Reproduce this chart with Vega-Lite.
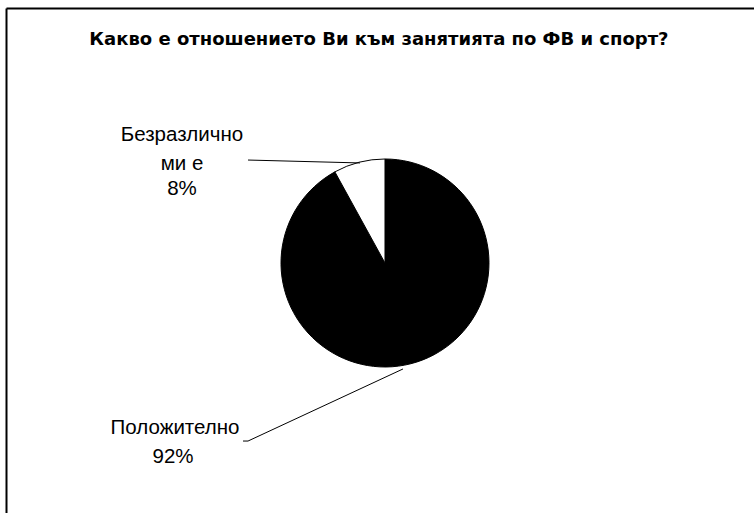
{
  "$schema": "https://vega.github.io/schema/vega-lite/v6.json",
  "width": 748,
  "height": 505,
  "autosize": {"type": "none"},
  "padding": {"left": 6, "top": 8, "right": 0, "bottom": 0},
  "background": "white",
  "config": {"view": {"stroke": null}, "font": "Liberation Sans"},
  "datasets": {
    "slices": [
      {"category": "Положително", "percent": 92, "order": 1},
      {"category": "Безразлично ми е", "percent": 8, "order": 2}
    ],
    "labels": [
      {"text": "Безразлично", "x": -1.952, "y": 1.231},
      {"text": "ми е", "x": -1.952, "y": 0.952},
      {"text": "8%", "x": -1.952, "y": 0.712},
      {"text": "Положително", "x": -2.019, "y": -1.587},
      {"text": "92%", "x": -2.038, "y": -1.865}
    ],
    "leaders": [
      {"label": "Безразлично ми е", "step": 1, "x": -1.317, "y": 0.99},
      {"label": "Безразлично ми е", "step": 2, "x": -0.24, "y": 0.962},
      {"label": "Положително", "step": 1, "x": -1.365, "y": -1.712},
      {"label": "Положително", "step": 2, "x": -1.317, "y": -1.712},
      {"label": "Положително", "step": 3, "x": 0.173, "y": -1.019}
    ],
    "title": [
      {"text": "Какво е отношението Ви към занятията по ФВ и спорт?", "x": -0.058, "y": 2.144}
    ]
  },
  "encoding": {
    "x": {"type": "quantitative", "scale": {"domain": [-3.644, 3.548], "nice": false, "zero": false},
      "axis": {"orient": "top", "title": null, "labels": false, "ticks": false, "grid": false, "domainColor": "#000", "domainWidth": 2}},
    "y": {"type": "quantitative", "scale": {"domain": [-2.404, 2.452], "nice": false, "zero": false},
      "axis": {"orient": "left", "title": null, "labels": false, "ticks": false, "grid": false, "domainColor": "#000", "domainWidth": 2}}
  },
  "layer": [
    {
      "data": {"name": "slices"},
      "mark": {"type": "arc", "outerRadius": 104, "stroke": "#000", "strokeWidth": 1},
      "encoding": {
        "x": {"datum": 0, "type": "quantitative"},
        "y": {"datum": 0, "type": "quantitative"},
        "theta": {"field": "percent", "type": "quantitative", "stack": true},
        "color": {
          "field": "category",
          "type": "nominal",
          "scale": {"domain": ["Положително", "Безразлично ми е"], "range": ["#000000", "#ffffff"]},
          "legend": null
        },
        "order": {"field": "order", "type": "quantitative"}
      }
    },
    {
      "data": {"name": "leaders"},
      "mark": {"type": "line", "color": "#000", "strokeWidth": 1},
      "encoding": {
        "x": {"field": "x", "type": "quantitative"},
        "y": {"field": "y", "type": "quantitative"},
        "detail": {"field": "label"},
        "order": {"field": "step", "type": "quantitative"}
      }
    },
    {
      "data": {"name": "labels"},
      "mark": {"type": "text", "fontSize": 20.5, "align": "center", "baseline": "middle", "color": "#000"},
      "encoding": {
        "x": {"field": "x", "type": "quantitative"},
        "y": {"field": "y", "type": "quantitative"},
        "text": {"field": "text"}
      }
    },
    {
      "data": {"name": "title"},
      "mark": {"type": "text", "font": "DejaVu Sans", "fontSize": 18, "fontWeight": "bold", "align": "center", "baseline": "middle", "color": "#000"},
      "encoding": {
        "x": {"field": "x", "type": "quantitative"},
        "y": {"field": "y", "type": "quantitative"},
        "text": {"field": "text"}
      }
    }
  ]
}
